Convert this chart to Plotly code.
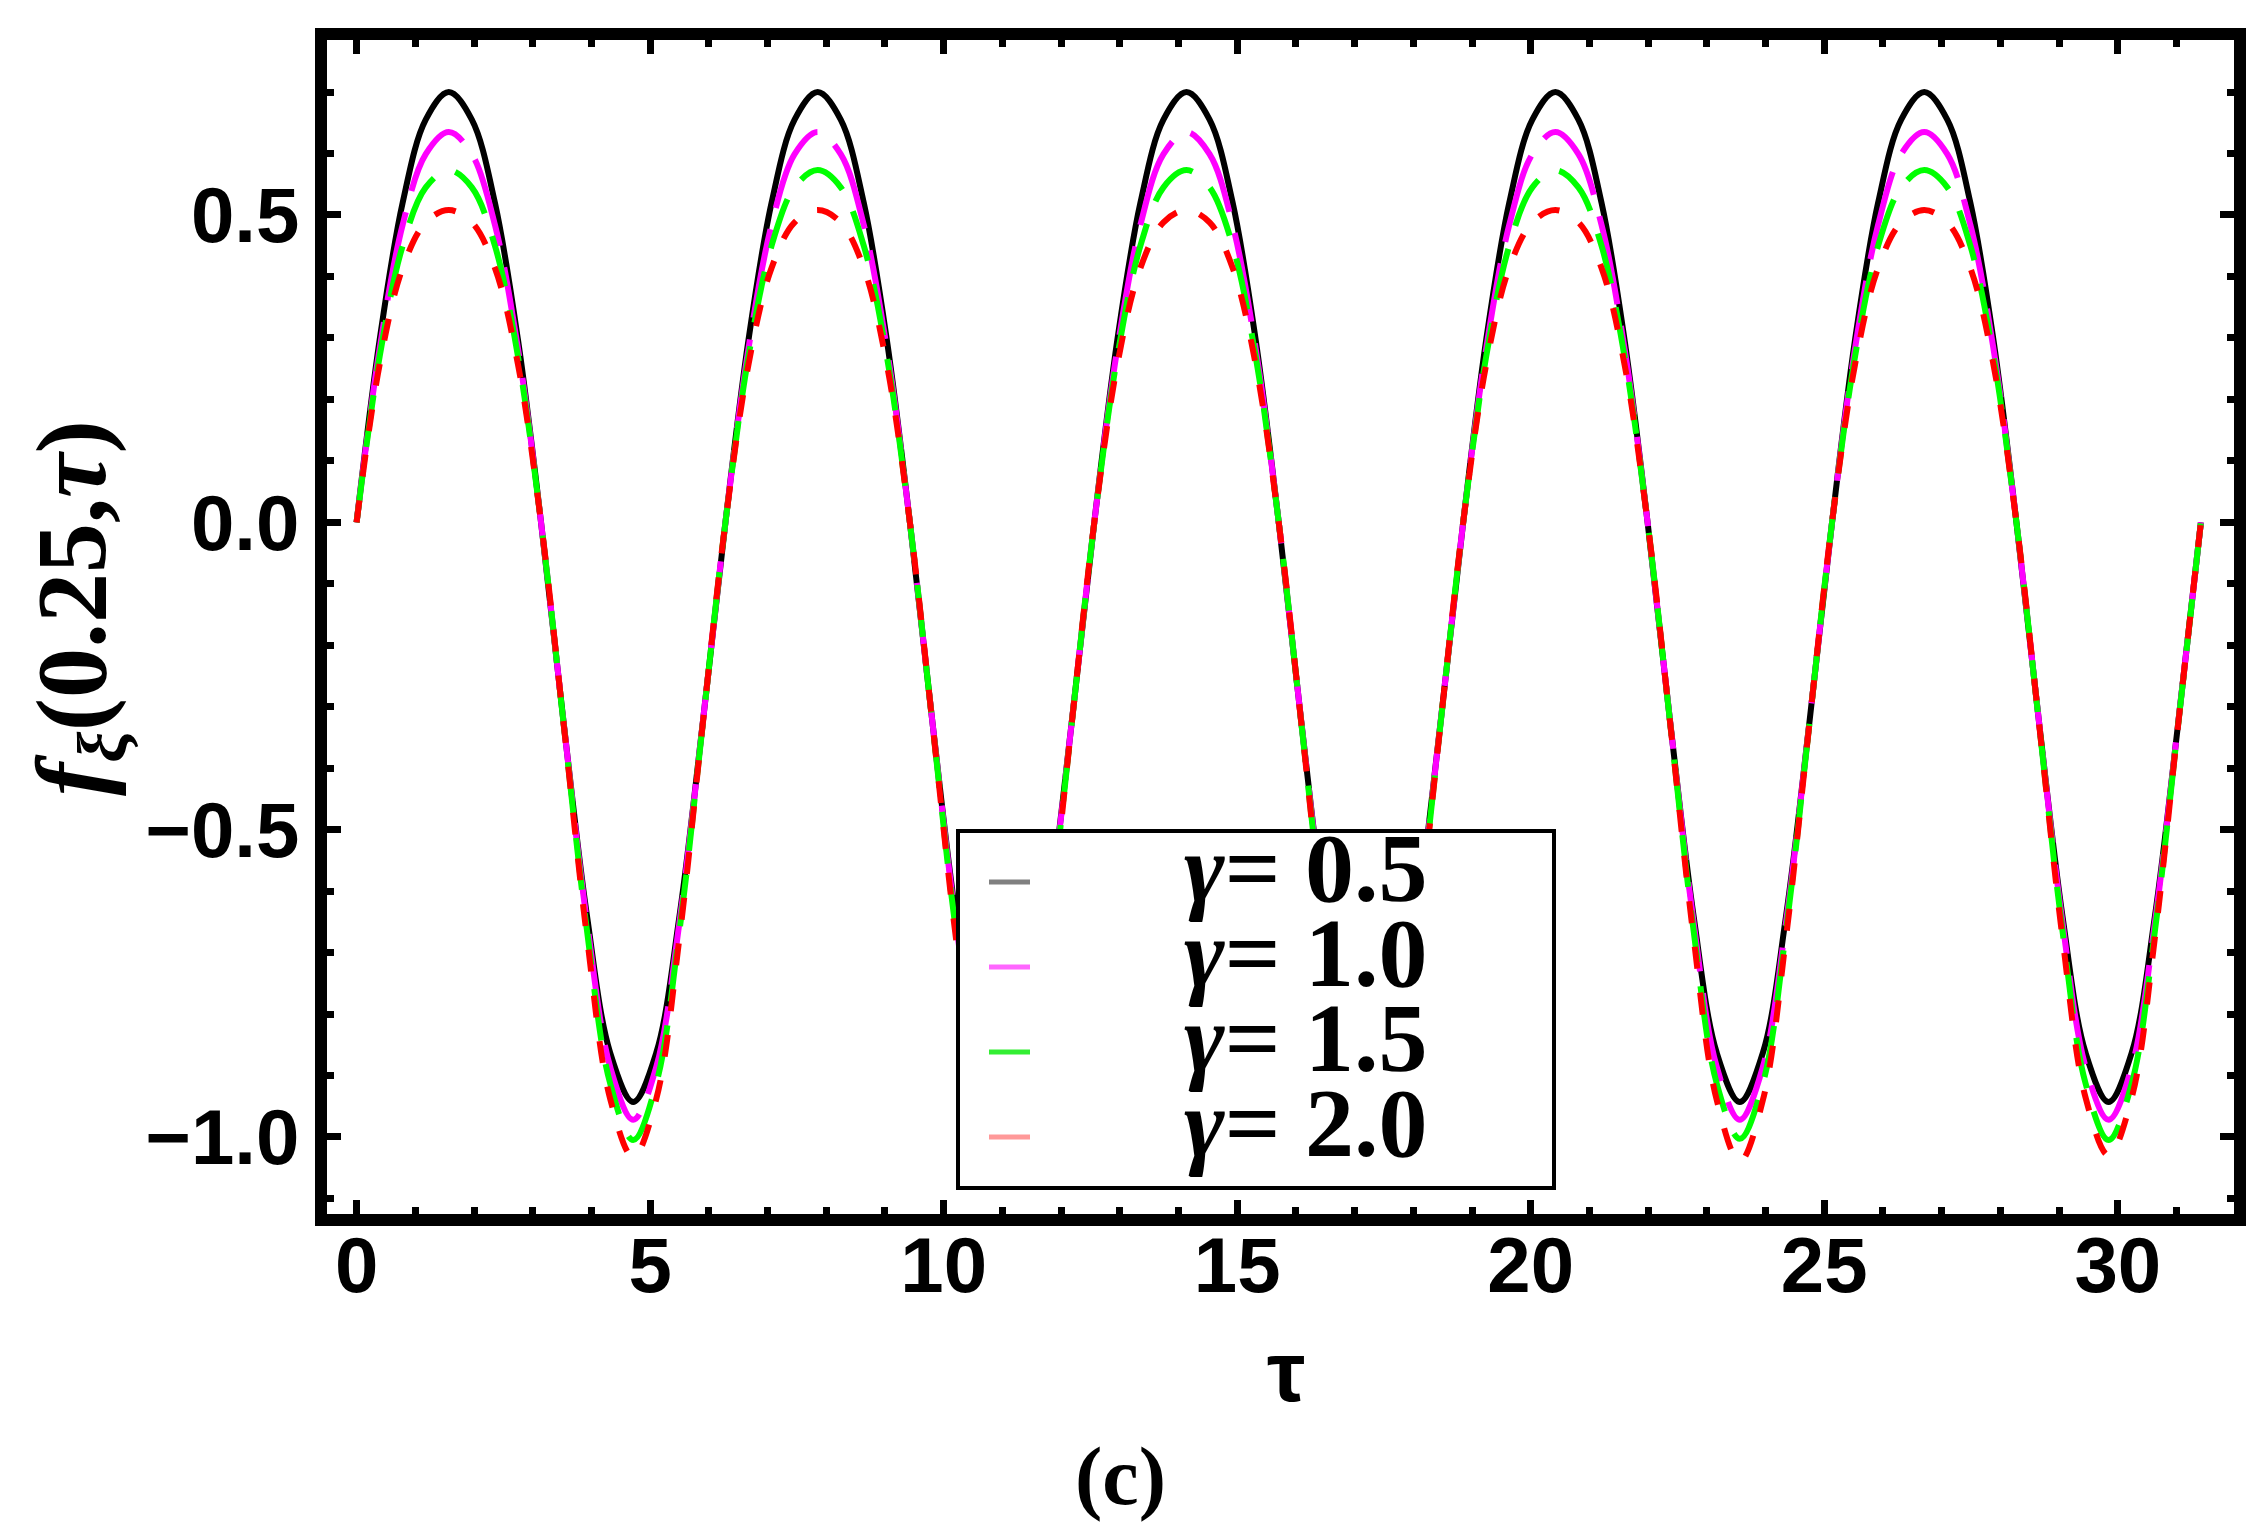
import plotly.graph_objects as go

# tau sampled every pi/8 over five periods (0 .. 10*pi)
tau = [0.000, 0.393, 0.785, 1.178, 1.571, 1.963, 2.356, 2.749, 3.142,
       3.534, 3.927, 4.320, 4.712, 5.105, 5.498, 5.890, 6.283,
       6.676, 7.069, 7.461, 7.854, 8.247, 8.639, 9.032, 9.425,
       9.817, 10.210, 10.603, 10.996, 11.388, 11.781, 12.174, 12.566,
       12.959, 13.352, 13.744, 14.137, 14.530, 14.923, 15.315, 15.708,
       16.101, 16.493, 16.886, 17.279, 17.671, 18.064, 18.457, 18.850,
       19.242, 19.635, 20.028, 20.420, 20.813, 21.206, 21.598, 21.991,
       22.384, 22.777, 23.169, 23.562, 23.955, 24.347, 24.740, 25.133,
       25.525, 25.918, 26.311, 26.704, 27.096, 27.489, 27.882, 28.274,
       28.667, 29.060, 29.452, 29.845, 30.238, 30.631, 31.023, 31.416]

f_g05 = [0.000, 0.297, 0.520, 0.655, 0.700, 0.655, 0.520, 0.297,
         0.000, -0.332, -0.642, -0.863, -0.943, -0.863, -0.642, -0.332,
         0.000, 0.297, 0.520, 0.655, 0.700, 0.655, 0.520, 0.297,
         0.000, -0.332, -0.642, -0.863, -0.943, -0.863, -0.642, -0.332,
         0.000, 0.297, 0.520, 0.655, 0.700, 0.655, 0.520, 0.297,
         0.000, -0.332, -0.642, -0.863, -0.943, -0.863, -0.642, -0.332,
         0.000, 0.297, 0.520, 0.655, 0.700, 0.655, 0.520, 0.297,
         0.000, -0.332, -0.642, -0.863, -0.943, -0.863, -0.642, -0.332,
         0.000, 0.297, 0.520, 0.655, 0.700, 0.655, 0.520, 0.297,
         0.000, -0.332, -0.642, -0.863, -0.943, -0.863, -0.642, -0.332,
         0.000]
f_g10 = [0.000, 0.283, 0.484, 0.599, 0.635, 0.599, 0.484, 0.283,
         0.000, -0.332, -0.652, -0.886, -0.972, -0.886, -0.652, -0.332,
         0.000, 0.283, 0.484, 0.599, 0.635, 0.599, 0.484, 0.283,
         0.000, -0.332, -0.652, -0.886, -0.972, -0.886, -0.652, -0.332,
         0.000, 0.283, 0.484, 0.599, 0.635, 0.599, 0.484, 0.283,
         0.000, -0.332, -0.652, -0.886, -0.972, -0.886, -0.652, -0.332,
         0.000, 0.283, 0.484, 0.599, 0.635, 0.599, 0.484, 0.283,
         0.000, -0.332, -0.652, -0.886, -0.972, -0.886, -0.652, -0.332,
         0.000, 0.283, 0.484, 0.599, 0.635, 0.599, 0.484, 0.283,
         0.000, -0.332, -0.652, -0.886, -0.972, -0.886, -0.652, -0.332,
         0.000]
f_g15 = [0.000, 0.270, 0.450, 0.545, 0.573, 0.545, 0.450, 0.270,
         0.000, -0.334, -0.666, -0.913, -1.005, -0.913, -0.666, -0.334,
         0.000, 0.270, 0.450, 0.545, 0.573, 0.545, 0.450, 0.270,
         0.000, -0.334, -0.666, -0.913, -1.005, -0.913, -0.666, -0.334,
         0.000, 0.270, 0.450, 0.545, 0.573, 0.545, 0.450, 0.270,
         0.000, -0.334, -0.666, -0.913, -1.005, -0.913, -0.666, -0.334,
         0.000, 0.270, 0.450, 0.545, 0.573, 0.545, 0.450, 0.270,
         0.000, -0.334, -0.666, -0.913, -1.003, -0.913, -0.666, -0.334,
         0.000, 0.270, 0.450, 0.545, 0.573, 0.545, 0.450, 0.270,
         0.000, -0.334, -0.666, -0.913, -1.005, -0.913, -0.666, -0.334,
         0.000]
f_g20 = [0.000, 0.257, 0.414, 0.488, 0.508, 0.488, 0.414, 0.257,
         0.000, -0.334, -0.677, -0.938, -1.033, -0.938, -0.677, -0.334,
         0.000, 0.257, 0.414, 0.488, 0.508, 0.488, 0.414, 0.257,
         0.000, -0.334, -0.677, -0.938, -1.033, -0.938, -0.677, -0.334,
         0.000, 0.257, 0.414, 0.488, 0.508, 0.488, 0.414, 0.257,
         0.000, -0.334, -0.677, -0.938, -1.033, -0.938, -0.677, -0.334,
         0.000, 0.257, 0.414, 0.488, 0.508, 0.488, 0.414, 0.257,
         0.000, -0.334, -0.677, -0.940, -1.040, -0.940, -0.677, -0.334,
         0.000, 0.257, 0.414, 0.488, 0.508, 0.488, 0.414, 0.257,
         0.000, -0.334, -0.677, -0.936, -1.030, -0.936, -0.677, -0.334,
         0.000]

labels = ["0.5", "1.0", "1.5", "2.0"]
series = [f_g05, f_g10, f_g15, f_g20]
colors = ["#000000", "#ff00ff", "#00ff00", "#ff0000"]
dashes = ["solid", "90px,22px", "52px,24px", "22px,24px"]
legend_colors = ["#808080", "#ff66ff", "#33ee33", "#ff9999"]

W, H = 2264, 1531
L, R, T, B = 325, 2232, 38, 1212
SHIFT = 6  # plotly lands the frame a few px right/down of the margin edge


def px(x):
    return (x - L) / (R - L)


def py(y):
    return (B - y) / (B - T)


fig = go.Figure()
for ys, c, d, lab in zip(series, colors, dashes, labels):
    fig.add_trace(go.Scatter(
        x=tau, y=ys, mode="lines", name="γ= " + lab,
        line=dict(color=c, width=6, dash=d, shape="spline"),
        showlegend=False,
    ))

tick_font = dict(family="Liberation Sans", size=78, color="black", weight="bold")
axis_common = dict(
    showline=True, linecolor="black", linewidth=12, mirror="ticks",
    ticks="inside", ticklen=14, tickwidth=7, tickcolor="black",
    showgrid=False, zeroline=False, tickfont=tick_font,
)

fig.update_xaxes(range=[-0.504, 31.98], tick0=0, dtick=5, ticklabelstandoff=-28,
                 minor=dict(dtick=1, ticks="inside", ticklen=7, tickwidth=7,
                            tickcolor="black", showgrid=False),
                 **axis_common)
fig.update_yaxes(range=[-1.1253, 0.7847], tick0=0, dtick=0.5, tickformat=".1f",
                 minor=dict(dtick=0.1, ticks="inside", ticklen=7, tickwidth=7,
                            tickcolor="black", showgrid=False),
                 **axis_common)

annotations = [
    dict(text="<b><i>f</i><sub><i>ξ</i></sub>(0.25,<i>τ</i>)</b>", textangle=-90,
         x=px(76), y=py(606), font=dict(family="Liberation Serif", size=100, color="black")),
    dict(text="<b>τ</b>", x=px(1284), y=py(1369),
         font=dict(family="Liberation Sans", size=86, color="black")),
    dict(text="<b>(c)</b>", x=px(1118), y=py(1474),
         font=dict(family="Liberation Serif", size=82, color="black")),
]

shapes = [dict(type="rect", xref="paper", yref="paper",
               x0=px(956), x1=px(1552), y0=py(1186), y1=py(829),
               line=dict(color="black", width=4), fillcolor="white", layer="above")]

row_y = [880, 965, 1050, 1135]
for lab, lc, ry in zip(labels, legend_colors, row_y):
    shapes.append(dict(type="line", xref="paper", yref="paper",
                       x0=px(987), x1=px(1028), y0=py(ry), y1=py(ry),
                       line=dict(color=lc, width=5)))
    annotations.append(dict(text="<b><i>γ</i>= " + lab + "</b>",
                            x=px(1180), y=py(ry - 14), xanchor="left",
                            font=dict(family="Liberation Serif", size=98, color="black")))

for a in annotations:
    a.setdefault("xref", "paper")
    a.setdefault("yref", "paper")
    a.setdefault("showarrow", False)
    a.setdefault("xanchor", "center")
    a.setdefault("yanchor", "middle")

fig.update_layout(
    width=W, height=H,
    margin=dict(l=L - SHIFT, r=W - R + SHIFT, t=T - SHIFT, b=H - B + SHIFT),
    paper_bgcolor="white", plot_bgcolor="white",
    annotations=annotations, shapes=shapes,
)

fig.write_html("out.html")
